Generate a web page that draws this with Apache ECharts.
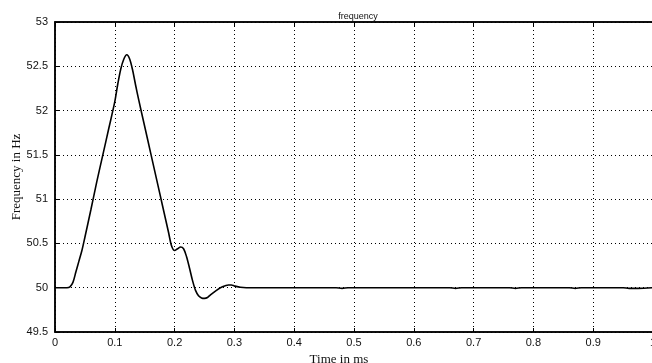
<!DOCTYPE html>
<html>
<head>
<meta charset="utf-8">
<script src="https://cdn.jsdelivr.net/npm/echarts@6/dist/echarts.min.js"></script>
<style>html,body{margin:0;padding:0;background:#fff}#c{width:652px;height:363px}</style>
</head>
<body>
<div id="c"></div>
<script>
var timeMs = [0,0.02,0.025,0.03,0.035,0.04,0.045,0.05,0.06,0.07,0.08,0.09,0.1,0.105,0.11,0.115,0.12,0.125,0.13,0.135,0.14,0.15,0.16,0.17,0.18,0.19,0.195,0.2,0.205,0.21,0.215,0.22,0.225,0.23,0.235,0.24,0.245,0.25,0.255,0.26,0.27,0.28,0.29,0.295,0.3,0.31,0.32,0.4,0.47,0.48,0.49,0.6,0.66,0.67,0.68,0.76,0.77,0.78,0.86,0.87,0.88,0.95,0.96,0.975,1.0];
var freqHz = [50,50,50.01,50.06,50.18,50.3,50.42,50.57,50.88,51.2,51.5,51.8,52.1,52.3,52.47,52.58,52.63,52.58,52.45,52.28,52.12,51.82,51.52,51.22,50.92,50.62,50.47,50.42,50.44,50.46,50.44,50.35,50.22,50.08,49.97,49.91,49.885,49.88,49.89,49.92,49.97,50.01,50.03,50.03,50.02,50.005,50,50,50,49.993,50,50,50,49.993,50,50,49.993,50,50,49.993,50,50,49.993,49.993,50];
var xTicks = [0,0.1,0.2,0.3,0.4,0.5,0.6,0.7,0.8,0.9,1];
var yTicks = [49.5,50,50.5,51,51.5,52,52.5,53];

var chart = echarts.init(document.getElementById('c'));
var lblStyle = {color:'#111', fontFamily:'Liberation Sans, Arial, sans-serif', fontSize:11};
var gridLine = {show:true, lineStyle:{color:'#000', type:[1,3], width:1}};
chart.setOption({
  animation:false,
  title:{text:'frequency', left:353, top:7, textAlign:'center',
    textStyle:{fontSize:9, fontWeight:'normal', color:'#111', fontFamily:'Liberation Sans, Arial, sans-serif'}},
  grid:{left:55, right:-1, top:22, bottom:31, show:true, borderColor:'#000', borderWidth:1.5, outerBoundsMode:'none', containLabel:false},
  xAxis:[{type:'value', min:0, max:1, interval:0.1,
    axisLine:{show:true, onZero:false, lineStyle:{color:'#000', width:1.5}},
    axisTick:{inside:true, length:4, lineStyle:{color:'#000'}},
    axisLabel:Object.assign({margin:5, formatter:function(v){return String(Math.round(v*10)/10);}}, lblStyle),
    splitLine:gridLine,
    name:'Time in ms', nameLocation:'middle', nameGap:19,
    nameTextStyle:{fontFamily:'Liberation Serif, Times New Roman, serif', fontSize:13, color:'#111', padding:[0,30,0,0]}
  },{type:'value', min:0, max:1, interval:0.1, position:'top',
    axisLine:{show:true, lineStyle:{color:'#000', width:1.5}},
    axisTick:{inside:true, length:4, lineStyle:{color:'#000'}},
    axisLabel:{show:false}, splitLine:{show:false}}],
  yAxis:[{type:'value', min:49.5, max:53, interval:0.5,
    axisLine:{show:true, onZero:false, lineStyle:{color:'#000', width:1.5}},
    axisTick:{inside:true, length:4, lineStyle:{color:'#000'}},
    axisLabel:Object.assign({margin:7, formatter:function(v){return String(Math.round(v*10)/10);}}, lblStyle),
    splitLine:gridLine,
    name:'Frequency in Hz', nameLocation:'middle', nameGap:32, nameMoveOverlap:false,
    nameTextStyle:{fontFamily:'Liberation Serif, Times New Roman, serif', fontSize:13, color:'#111'}
  }],
  series:[{type:'line', xAxisIndex:0, yAxisIndex:0, data:timeMs.map(function(t,i){return [t,freqHz[i]];}),
    showSymbol:false, smooth:0.3, lineStyle:{color:'#000', width:1.6}}]
});
</script>
</body>
</html>
